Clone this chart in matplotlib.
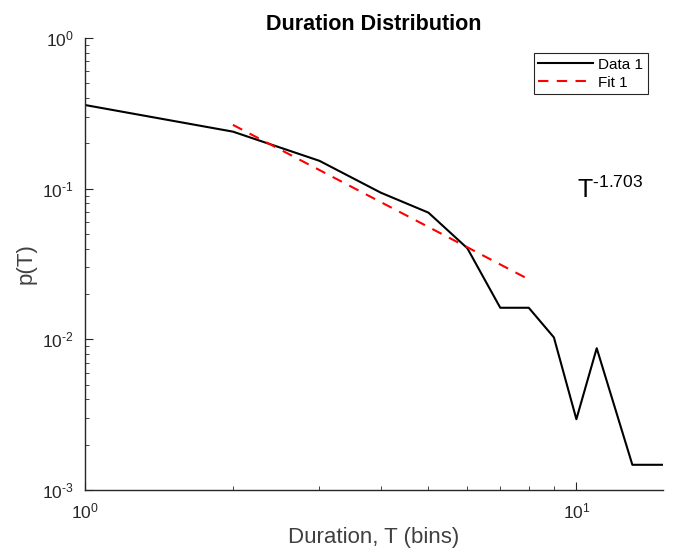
import numpy as np
import matplotlib
matplotlib.use("Agg")
import matplotlib.pyplot as plt
from matplotlib.ticker import LogLocator, NullFormatter, FuncFormatter

plt.rcParams['font.family'] = ['Liberation Sans', 'DejaVu Sans']
plt.rcParams['mathtext.fontset'] = 'custom'
plt.rcParams['mathtext.rm'] = 'Liberation Sans'
plt.rcParams['axes.unicode_minus'] = False

# duration distribution
T = [1, 2, 3, 4, 5, 6, 7, 8, 9, 10, 11, 13, 15]
pT = [0.359, 0.239, 0.153, 0.094, 0.0693, 0.0402, 0.0162, 0.0162,
      0.0103, 0.00295, 0.00873, 0.00147, 0.00147]

# power law fit
fit_T = [2, 8]
fit_amp = 0.863
fit_exp = -1.703

grey = '#262626'


def pow10(v, pos):
    e = int(round(np.log10(v)))
    s = str(e).replace('-', r'\text{-}')
    return r'$\mathregular{10^{%s}}$' % s


fig = plt.figure(figsize=(6.73, 5.56), dpi=100)
ax = fig.add_axes([0.1263, 0.1187, 0.8587, 0.813])

ax.loglog(T, pT, color='k', lw=1.5, label='Data 1')
ft = np.array(fit_T, dtype=float)
ax.loglog(ft, fit_amp * ft ** fit_exp, color='r', lw=1.5, ls=(0, (5, 4)), label='Fit 1')

ax.set_xlim(1, 15)
ax.set_ylim(1e-3, 1)

for s in ['top', 'right']:
    ax.spines[s].set_visible(False)
for s in ['left', 'bottom']:
    ax.spines[s].set_color(grey)
    ax.spines[s].set_linewidth(1.0)

ax.xaxis.set_major_locator(LogLocator(base=10))
ax.yaxis.set_major_locator(LogLocator(base=10))
ax.xaxis.set_minor_locator(LogLocator(base=10, subs=np.arange(2, 10)))
ax.yaxis.set_minor_locator(LogLocator(base=10, subs=np.arange(2, 10)))
ax.xaxis.set_major_formatter(FuncFormatter(pow10))
ax.yaxis.set_major_formatter(FuncFormatter(pow10))
ax.xaxis.set_minor_formatter(NullFormatter())
ax.yaxis.set_minor_formatter(NullFormatter())
ax.tick_params(which='both', direction='in', colors=grey, labelsize=12.5)
ax.tick_params(which='major', length=6, pad=8)
ax.tick_params(which='minor', length=3)

ax.set_xlabel('Duration, T (bins)', fontsize=16, color='#404040', labelpad=4)
ax.set_ylabel('p(T)', fontsize=16, color='#404040', labelpad=4)
ax.set_title('Duration Distribution', fontsize=15.5, fontweight='bold', pad=6)

ax.text(0.851, 0.646, r'T$^{\mathregular{\text{-}%.3f}}$' % abs(fit_exp),
        transform=ax.transAxes, fontsize=18, color='k')

leg = ax.legend(loc='upper right', fontsize=11, fancybox=False, framealpha=1,
                borderaxespad=1.0, handlelength=3.6, handletextpad=0.3,
                borderpad=0.3, labelspacing=0.25)
leg.get_frame().set_edgecolor(grey)
leg.get_frame().set_linewidth(0.8)

fig.savefig('out.png', dpi=100)
